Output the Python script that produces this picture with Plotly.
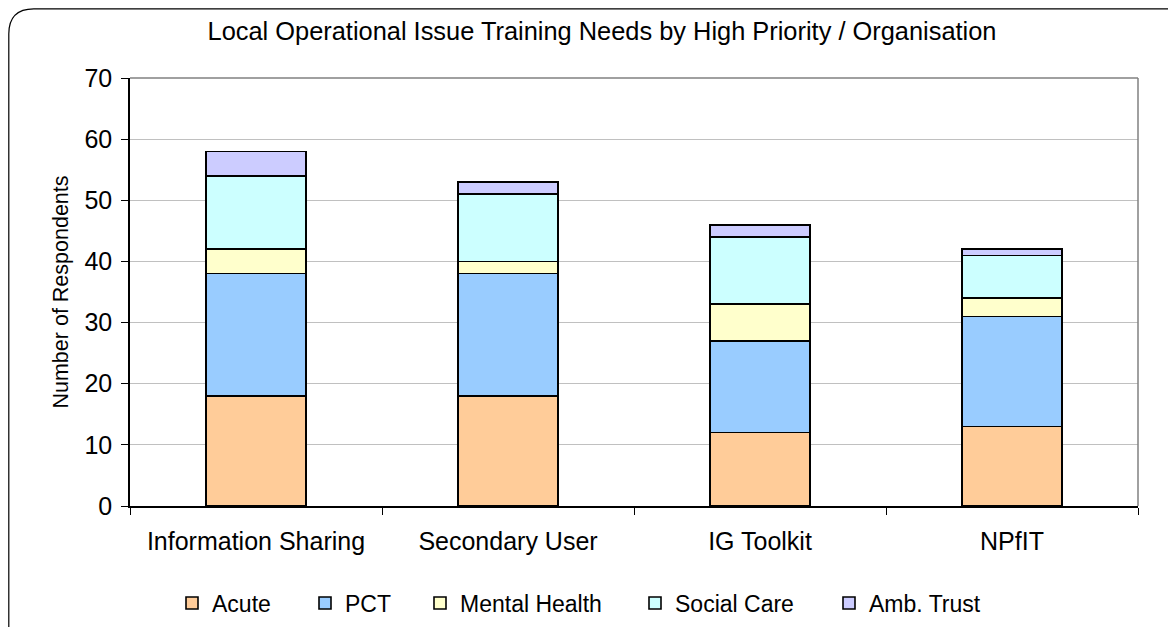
import plotly.graph_objects as go

categories = ["Information Sharing", "Secondary User", "IG Toolkit", "NPfIT"]
acute = [18, 18, 12, 13]
pct = [20, 20, 15, 18]
mental_health = [4, 2, 6, 3]
social_care = [12, 11, 11, 7]
amb_trust = [4, 2, 2, 1]

series_names = ["Acute", "PCT", "Mental Health", "Social Care", "Amb. Trust"]
series_values = [acute, pct, mental_health, social_care, amb_trust]
series_colors = ["#FFCC99", "#99CCFF", "#FFFFCC", "#CCFFFF", "#CCCCFF"]

# figure size (page body adds an 8px offset in the browser)
W, H = 1168, 619
L, R, T, B = 122, 1130, 70, 498

def px(x):
    return (x - L) / (R - L)

def py(y):
    return (B - y) / (B - T)

legend_text_x = [202, 335, 450, 665, 859]
legend_y = 595

fig = go.Figure()
legend_ids = ["legend", "legend2", "legend3", "legend4", "legend5"]
for name, vals, col, lid in zip(series_names, series_values, series_colors, legend_ids):
    fig.add_trace(go.Bar(
        x=categories, y=vals, name=name, legend=lid,
        marker=dict(color=col, line=dict(color="black", width=1.6)),
    ))

# rounded outer border
r = 25
x0, y0 = 0.8, 0.8
path = (f"M {px(x0)},{py(H + 30)} L {px(x0)},{py(y0 + r)} "
        f"Q {px(x0)},{py(y0)} {px(x0 + r)},{py(y0)} L {px(W + 30)},{py(y0)}")
shapes = [
    dict(type="path", xref="paper", yref="paper", path=path,
         line=dict(color="black", width=1.2), layer="above"),
    dict(type="line", xref="paper", yref="paper", x0=0, x1=1, y0=1, y1=1,
         line=dict(color="#808080", width=1.5)),
    dict(type="line", xref="paper", yref="paper", x0=1, x1=1, y0=0, y1=1,
         line=dict(color="#808080", width=1.5)),
]

layout_legends = {}
for lid, tx in zip(legend_ids, legend_text_x):
    layout_legends[lid] = dict(
        orientation="h", xref="container", yref="container",
        x=(tx - 38) / W, xanchor="left",
        y=1 - legend_y / H, yanchor="middle",
        font=dict(size=23, color="black"), itemwidth=30,
        bgcolor="rgba(0,0,0,0)",
    )

fig.update_layout(
    width=W, height=H,
    margin=dict(l=L, r=W - R, t=T, b=H - B, autoexpand=False),
    barmode="stack",
    bargap=0.603,
    paper_bgcolor="white",
    plot_bgcolor="white",
    font=dict(family="Liberation Sans, Arial, sans-serif", color="black"),
    title=dict(text="Local Operational Issue Training Needs by High Priority / Organisation",
               x=px(594), xref="paper", xanchor="center",
               y=1 - 23 / H, yref="container", yanchor="middle",
               font=dict(size=25.4, color="black")),
    xaxis=dict(showline=True, linecolor="black", linewidth=1.5,
               ticks="outside", tickson="boundaries", ticklen=7, tickcolor="black",
               tickwidth=1.2, tickfont=dict(size=25), showgrid=False,
               ticklabelstandoff=12),
    yaxis=dict(range=[0, 70], dtick=10, showline=True, linecolor="black", linewidth=1.5,
               ticks="outside", ticklen=7, tickcolor="black", tickwidth=1.2,
               tickfont=dict(size=25), showgrid=True, gridcolor="#C0C0C0", gridwidth=1,
               zeroline=False, ticklabelstandoff=4,
               title=dict(text="Number of Respondents", font=dict(size=21.5), standoff=10)),
    shapes=shapes,
    showlegend=True,
    **layout_legends,
)

fig.write_html("out.html")
